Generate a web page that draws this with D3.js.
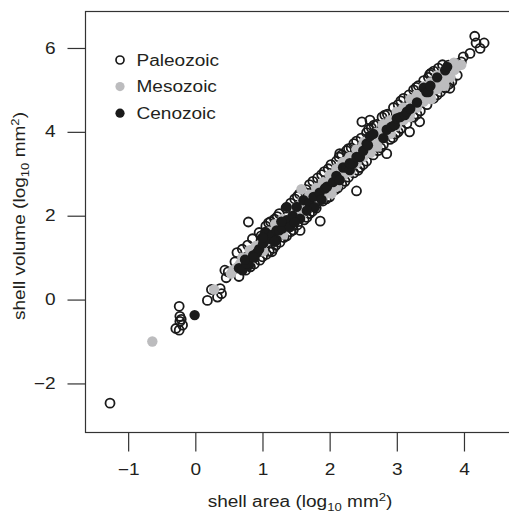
<!DOCTYPE html>
<html>
<head>
<meta charset="utf-8">
<script src="https://cdn.jsdelivr.net/npm/d3@7"></script>
<style>
  body { margin: 0; background: #fff; }
  svg text { font-family: "Liberation Sans", Arial, Helvetica, sans-serif; fill: #231f20; }
</style>
</head>
<body>
<div id="chart"></div>
<script>
// shell area / shell volume (log10)
const paleozoic = [
  [-1.27, -2.47], [-0.24, -0.16], [-0.23, -0.40], [-0.23, -0.52], [-0.29, -0.69], [-0.24, -0.73],
  [-0.19, -0.61], [-0.21, -0.47], [0.18, -0.02], [0.33, 0.06], [0.39, 0.14], [0.24, 0.24],
  [0.37, 0.26], [0.46, 0.52], [0.49, 0.66], [0.44, 0.70], [0.59, 0.90], [0.96, 0.94],
  [0.79, 1.85], [1.09, 1.83], [1.14, 1.14], [1.26, 1.37], [1.56, 1.65], [1.86, 1.87],
  [2.40, 2.59], [2.15, 3.48], [2.48, 4.24], [2.60, 4.28], [2.85, 3.48], [3.19, 4.00],
  [3.34, 4.24], [3.79, 5.04], [3.49, 5.37], [3.74, 5.23], [3.77, 5.59], [3.86, 5.63],
  [3.96, 5.67], [3.99, 5.79], [4.09, 5.87], [4.16, 6.28], [4.18, 6.12], [4.30, 6.12], [4.24, 5.99],
  // upper edge of the cloud
  [0.62, 1.12], [0.70, 1.20], [0.85, 1.45], [0.95, 1.60], [1.05, 1.75], [1.18, 1.92],
  [1.25, 2.05], [1.35, 2.18], [1.48, 2.40], [1.55, 2.52], [1.65, 2.62], [1.75, 2.82],
  [1.82, 2.90], [1.92, 3.05], [2.02, 3.22], [2.10, 3.30], [2.18, 3.45], [2.25, 3.55],
  [2.32, 3.62], [2.40, 3.78], [2.47, 3.85], [2.55, 3.98], [2.62, 4.10], [2.70, 4.18],
  [2.78, 4.35], [2.86, 4.42], [2.95, 4.58], [3.02, 4.65], [3.10, 4.80], [3.18, 4.88],
  [3.25, 5.00], [3.32, 5.10], [3.40, 5.22], [3.47, 5.30], [3.55, 5.45], [3.62, 5.52], [3.68, 5.60],
  [0.78, 1.30], [1.12, 1.86], [1.42, 2.30], [1.70, 2.74], [1.98, 3.12], [2.14, 3.40],
  [2.36, 3.72], [2.58, 4.06], [2.82, 4.40], [3.06, 4.74], [3.29, 5.06], [3.51, 5.40],
  [0.98, 1.52], [1.22, 1.98], [1.52, 2.46], [1.88, 2.98], [2.28, 3.60], [2.66, 4.16],
  // lower edge of the cloud
  [0.65, 0.55], [0.75, 0.70], [0.88, 0.85], [1.00, 1.02], [1.10, 1.15], [1.20, 1.30],
  [1.32, 1.48], [1.42, 1.62], [1.52, 1.78], [1.62, 1.90], [1.70, 2.05], [1.80, 2.18],
  [1.90, 2.35], [2.00, 2.45], [2.08, 2.62], [2.18, 2.75], [2.28, 2.92], [2.36, 3.02],
  [2.45, 3.15], [2.55, 3.30], [2.65, 3.45], [2.72, 3.55], [2.80, 3.70], [2.90, 3.82],
  [2.98, 3.95], [3.06, 4.08], [3.15, 4.20], [3.25, 4.35], [3.35, 4.50], [3.45, 4.65],
  [3.55, 4.80], [3.65, 4.95], [3.72, 5.05], [3.82, 5.20], [3.90, 5.35],
  [0.82, 0.78], [1.06, 1.08], [1.36, 1.52], [1.66, 1.96], [1.95, 2.40], [2.23, 2.82],
  [2.50, 3.22], [2.76, 3.62], [3.02, 4.00], [3.30, 4.42], [3.60, 4.88], [3.78, 5.14],
  [1.16, 1.22], [1.46, 1.66], [1.74, 2.10], [2.12, 2.66], [2.42, 3.08], [2.94, 3.86]
];

const mesozoic = [
  [-0.64, -1.00], [0.28, 0.24], [0.53, 0.62], [1.58, 2.63], [0.81, 1.18], [0.94, 1.22], [2.03, 2.53],
  [0.56, 0.70], [0.63, 0.78], [0.67, 0.86], [0.73, 0.92], [0.77, 0.99], [0.85, 1.12], [0.89, 1.08],
  [0.92, 1.21], [0.99, 1.30], [1.02, 1.36], [1.07, 1.40], [1.11, 1.52], [1.14, 1.49], [1.21, 1.62],
  [1.24, 1.71], [1.29, 1.66], [1.33, 1.80], [1.37, 1.86], [1.43, 1.95], [1.46, 1.91], [1.51, 2.05],
  [1.54, 2.13], [1.61, 2.15], [1.64, 2.29], [1.69, 2.24], [1.72, 2.38], [1.78, 2.42], [1.81, 2.51],
  [1.87, 2.58], [1.90, 2.61], [1.96, 2.72], [2.00, 2.77], [2.05, 2.81], [2.08, 2.92], [2.13, 2.95],
  [2.16, 3.03], [2.21, 3.08], [2.24, 3.13], [2.29, 3.22], [2.32, 3.26], [2.37, 3.30], [2.41, 3.41],
  [2.44, 3.43], [2.49, 3.52], [2.52, 3.56], [2.57, 3.62], [2.60, 3.71], [2.65, 3.72], [2.68, 3.81],
  [2.73, 3.85], [2.76, 3.89], [2.81, 3.98], [2.84, 4.01], [2.89, 4.08], [2.92, 4.11], [2.97, 4.20],
  [3.00, 4.23], [3.05, 4.30], [3.08, 4.36], [3.13, 4.41], [3.16, 4.50], [3.21, 4.52], [3.24, 4.59],
  [3.29, 4.65], [3.32, 4.71], [3.37, 4.78], [3.40, 4.81], [3.45, 4.88], [3.48, 4.93], [3.53, 5.00],
  [3.56, 5.06], [3.61, 5.12], [3.64, 5.19], [3.69, 5.22], [3.72, 5.31], [3.77, 5.35], [3.80, 5.43],
  [3.86, 5.48], [3.91, 5.57], [3.96, 5.60],
  [1.01, 1.15], [1.31, 1.55], [1.59, 2.35], [1.91, 2.45], [2.19, 3.26], [2.31, 3.05], [2.51, 3.76],
  [2.61, 3.50], [2.79, 4.16], [2.91, 3.95], [3.11, 4.56], [3.19, 4.35], [3.41, 4.96], [3.51, 4.78],
  [3.59, 5.29], [3.71, 5.10], [2.01, 2.96], [2.11, 2.70], [1.41, 1.75], [1.19, 1.80], [2.71, 3.65],
  [3.01, 4.41],
  [0.70, 1.00], [0.90, 1.28], [1.10, 1.62], [1.30, 1.92], [1.50, 2.20], [1.70, 2.50], [1.80, 2.66],
  [1.90, 2.80], [2.00, 2.98], [2.10, 3.12], [2.20, 3.28], [2.30, 3.40], [2.40, 3.58], [2.50, 3.70],
  [2.60, 3.88], [2.70, 3.98], [2.80, 4.18], [2.90, 4.28], [3.00, 4.48], [3.10, 4.58], [3.20, 4.78],
  [3.30, 4.88], [3.40, 5.08], [3.50, 5.18], [3.60, 5.35], [3.70, 5.45], [3.85, 5.65], [1.60, 2.36],
  [0.80, 0.88], [1.00, 1.18], [1.20, 1.48], [1.40, 1.78], [1.60, 2.05], [1.80, 2.38], [2.00, 2.66],
  [2.20, 2.96], [2.40, 3.25], [2.50, 3.40], [2.60, 3.55], [2.70, 3.70], [2.80, 3.85], [2.90, 3.98],
  [3.00, 4.14], [3.10, 4.28], [3.20, 4.44], [3.30, 4.58], [3.40, 4.72], [3.50, 4.88], [3.60, 5.02],
  [3.70, 5.18], [3.80, 5.30]
];

const cenozoic = [
  [-0.01, -0.37], [0.65, 0.75], [0.70, 0.70], [0.80, 0.82], [0.76, 0.86], [0.74, 0.95], [0.86, 1.05],
  [0.92, 1.12], [0.95, 1.20], [1.01, 1.34], [1.04, 1.61], [1.06, 1.58], [1.10, 1.45], [1.15, 1.55],
  [1.21, 1.42], [1.21, 1.65], [1.25, 1.65], [1.30, 1.70], [1.36, 1.89], [1.36, 2.21], [1.41, 1.73],
  [1.45, 2.00], [1.51, 2.21], [1.56, 1.93], [1.61, 2.37], [1.70, 2.30], [1.76, 2.45], [1.78, 2.20],
  [1.85, 2.55], [1.93, 2.65], [1.96, 2.69], [2.05, 2.80], [2.10, 2.95], [2.15, 2.85], [2.20, 3.15],
  [2.25, 3.15], [2.30, 3.09], [2.30, 3.25], [2.35, 3.25], [2.40, 3.40], [2.45, 3.40], [2.50, 3.55],
  [2.55, 3.72], [2.57, 3.68], [2.60, 3.90], [2.65, 3.95], [2.80, 3.85], [2.85, 4.05], [2.92, 4.12],
  [2.97, 4.16], [3.00, 4.32], [3.05, 4.35], [3.12, 4.40], [3.15, 4.48], [3.20, 4.55], [3.30, 4.70],
  [3.40, 5.05], [3.44, 4.95], [3.47, 4.95], [3.50, 5.10], [3.60, 5.30], [3.72, 5.47], [3.75, 5.55],
  [0.88, 1.00], [1.00, 1.48], [1.18, 1.38], [1.28, 1.86], [1.48, 1.84], [1.66, 2.12], [1.88, 2.38]
];

const xTicks = [-1, 0, 1, 2, 3, 4];
const yTicks = [-2, 0, 2, 4, 6];
const legendLabels = ["Paleozoic", "Mesozoic", "Cenozoic"];

const width = 509, height = 516;
const box = { left: 85.5, top: 11.5, right: 512, bottom: 432.5 };
const stretch = 1.19; // the figure's lettering is wider than Arial

const svg = d3.select("#chart").append("svg")
  .attr("width", width)
  .attr("height", height);

const x = d3.scaleLinear().domain([-1.635, 4.715]).range([box.left, box.right]);
const y = d3.scaleLinear().domain([-3.17, 6.87]).range([box.bottom, box.top]);

// plot frame
svg.append("rect")
  .attr("x", box.left).attr("y", box.top)
  .attr("width", box.right - box.left).attr("height", box.bottom - box.top)
  .attr("fill", "none").attr("stroke", "#333").attr("stroke-width", 1.2);

// axes, ticks hang outside the frame
const xAxis = svg.append("g")
  .attr("transform", `translate(0,${box.bottom})`)
  .call(d3.axisBottom(x).tickValues(xTicks).tickFormat(d3.format("d")).tickSize(19).tickPadding(12));
const yAxis = svg.append("g")
  .attr("transform", `translate(${box.left},0)`)
  .call(d3.axisLeft(y).tickValues(yTicks).tickFormat(d3.format("d")).tickSize(18).tickPadding(12));

[xAxis, yAxis].forEach((g) => {
  g.select(".domain").remove();
  g.selectAll(".tick line").attr("stroke", "#333").attr("stroke-width", 1.2);
  g.selectAll(".tick text")
    .attr("font-size", 16)
    .attr("font-family", "'Liberation Sans', Arial, sans-serif")
    .attr("fill", "#231f20")
    .attr("transform", `scale(${stretch},1)`);
});
yAxis.selectAll(".tick text").attr("x", -30 / stretch);

// points: open circles first, then grey, then black on top
const plot = svg.append("g");

plot.selectAll(".paleo")
  .data(paleozoic)
  .enter()
  .append("circle")
  .attr("cx", (d) => x(d[0]))
  .attr("cy", (d) => y(d[1]))
  .attr("r", 4.5)
  .attr("fill", "none")
  .attr("stroke", "#1a1a1a")
  .attr("stroke-width", 1.8);

plot.selectAll(".meso")
  .data(mesozoic)
  .enter()
  .append("circle")
  .attr("cx", (d) => x(d[0]))
  .attr("cy", (d) => y(d[1]))
  .attr("r", 5.2)
  .attr("fill", "#bcbcbe");

plot.selectAll(".ceno")
  .data(cenozoic)
  .enter()
  .append("circle")
  .attr("cx", (d) => x(d[0]))
  .attr("cy", (d) => y(d[1]))
  .attr("r", 5.2)
  .attr("fill", "#1a1a1a");

// legend
const legend = svg.append("g");
legendLabels.forEach((label, i) => {
  const cy = 60 + i * 26.6;
  const c = legend.append("circle").attr("cx", 120).attr("cy", cy);
  if (i === 0) {
    c.attr("r", 4).attr("fill", "none").attr("stroke", "#1a1a1a").attr("stroke-width", 1.7);
  } else {
    c.attr("r", 4.6).attr("fill", i === 1 ? "#bcbcbe" : "#1a1a1a");
  }
  legend.append("text")
    .attr("transform", `translate(136.5,${cy + 5.8}) scale(${stretch},1)`)
    .attr("font-size", 16)
    .text(label);
});

// axis titles with sub/superscripts
function title(t) {
  t.append("tspan").text(t.attr("data-label"));
  t.append("tspan").attr("dy", 4).attr("font-size", 11).text("10");
  t.append("tspan").attr("dy", -4).text(" mm");
  t.append("tspan").attr("dy", -6).attr("font-size", 11).text("2");
  t.append("tspan").attr("dy", 6).text(")");
}

svg.append("text")
  .attr("transform", `translate(300,507) scale(${stretch},1)`)
  .attr("text-anchor", "middle")
  .attr("font-size", 16)
  .attr("data-label", "shell area (log")
  .call(title);

svg.append("text")
  .attr("transform", `translate(25,216) rotate(-90) scale(${stretch},1)`)
  .attr("text-anchor", "middle")
  .attr("font-size", 16)
  .attr("data-label", "shell volume (log")
  .call(title);
</script>
</body>
</html>
